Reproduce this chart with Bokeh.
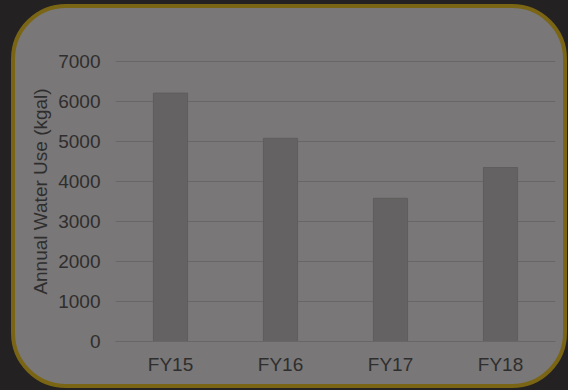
from bokeh.plotting import figure
from bokeh.models import FixedTicker
from bokeh.embed import file_html
from bokeh.resources import INLINE

# Data
categories = ["FY15", "FY16", "FY17", "FY18"]
water_use = [6210, 5080, 3580, 4350]
y_ticks = [0, 1000, 2000, 3000, 4000, 5000, 6000, 7000]

PANEL = "#797777"
BAR = "#646262"
GRID = "#686666"
TEXT = "#2f2e2e"
GOLD = "#7a6514"
DARK = "#232121"
FONT = "Liberation Sans"

p = figure(x_range=categories, y_range=(0, 7500), width=556, height=384,
           output_backend="svg", toolbar_location=None,
           min_border_left=100, min_border_right=16,
           min_border_top=33, min_border_bottom=51)

p.border_fill_alpha = 0
p.background_fill_alpha = 0
p.outline_line_color = None
p.styles = {"background-color": PANEL, "border": "4px solid " + GOLD,
            "border-radius": "55px", "overflow": "hidden",
            "margin-left": "11px", "margin-top": "4px"}

p.vbar(x=categories, top=water_use, width=0.31, fill_color=BAR,
       line_color="#5f5d5d", line_width=1)

p.xgrid.grid_line_color = None
p.ygrid.grid_line_color = GRID
p.ygrid.grid_line_width = 1
p.yaxis.ticker = FixedTicker(ticks=y_ticks)

for ax in (p.xaxis[0], p.yaxis[0]):
    ax.axis_line_color = None
    ax.major_tick_line_color = None
    ax.minor_tick_line_color = None
    ax.major_tick_out = 0
    ax.major_tick_in = 0
    ax.major_label_text_font = FONT
    ax.major_label_text_font_size = "19px"
    ax.major_label_text_color = TEXT

p.xaxis.axis_line_color = GRID
p.yaxis.major_label_standoff = 15
p.xaxis.major_label_standoff = 12
p.yaxis.axis_label = "Annual Water Use (kgal)"
p.yaxis.axis_label_text_font = FONT
p.yaxis.axis_label_text_font_size = "19px"
p.yaxis.axis_label_text_font_style = "normal"
p.yaxis.axis_label_text_color = TEXT
p.yaxis.axis_label_standoff = 4

html = file_html(p, INLINE)
html = html.replace("</head>", "<style>body{background:%s}</style></head>" % DARK, 1)
open("out.html", "w").write(html)
